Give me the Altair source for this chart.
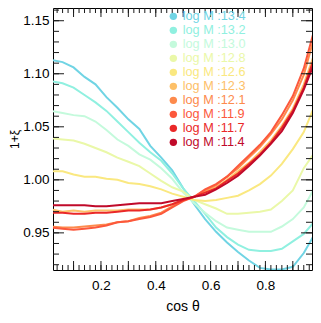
import altair as alt
import pandas as pd

# ---------------- data ----------------
cos_theta = [0.02, 0.06, 0.10, 0.14, 0.18, 0.22, 0.26, 0.30, 0.34, 0.38, 0.42, 0.46, 0.50,
             0.54, 0.58, 0.62, 0.66, 0.70, 0.74, 0.78, 0.82, 0.86, 0.90, 0.94, 0.98]

masses = ["13.4", "13.2", "13.0", "12.8", "12.6", "12.3", "12.1", "11.9", "11.7", "11.4"]
colors = ["#70d4e4", "#90f0e0", "#c4fadc", "#eaf8a8", "#fae880",
          "#fdc068", "#fd8a4c", "#fc583c", "#ea2828", "#c00a2a"]

xi_13_4 = [1.113, 1.111, 1.106, 1.097, 1.090, 1.078, 1.068, 1.057, 1.048, 1.032, 1.021, 1.009, 0.992,
           0.977, 0.963, 0.951, 0.941, 0.932, 0.924, 0.917, 0.9155, 0.9155, 0.918, 0.931, 0.949]
xi_13_2 = [1.093, 1.091, 1.087, 1.080, 1.073, 1.065, 1.055, 1.045, 1.035, 1.026, 1.018, 1.006, 0.992,
           0.980, 0.968, 0.955, 0.946, 0.939, 0.934, 0.933, 0.933, 0.935, 0.942, 0.949, 0.961]
xi_13_0 = [1.065, 1.063, 1.061, 1.060, 1.055, 1.047, 1.038, 1.032, 1.024, 1.019, 1.011, 1.001, 0.988,
           0.978, 0.969, 0.961, 0.955, 0.953, 0.951, 0.951, 0.951, 0.956, 0.963, 0.974, 0.993]
xi_12_8 = [1.039, 1.038, 1.037, 1.034, 1.030, 1.026, 1.021, 1.017, 1.013, 1.006, 0.999, 0.993, 0.989,
           0.981, 0.977, 0.973, 0.968, 0.968, 0.969, 0.970, 0.972, 0.980, 0.990, 1.011, 1.026]
xi_12_6 = [1.008, 1.008, 1.005, 1.003, 1.003, 1.001, 1.000, 0.997, 0.996, 0.994, 0.991, 0.987, 0.984,
           0.981, 0.980, 0.981, 0.983, 0.985, 0.990, 0.996, 1.004, 1.015, 1.029, 1.045, 1.070]
xi_12_3 = [0.972, 0.970, 0.971, 0.970, 0.971, 0.971, 0.971, 0.972, 0.972, 0.972, 0.974, 0.977, 0.981,
           0.984, 0.989, 0.993, 1.000, 1.008, 1.016, 1.026, 1.037, 1.051, 1.067, 1.090, 1.120]
xi_12_1 = [0.956, 0.955, 0.955, 0.956, 0.957, 0.958, 0.960, 0.961, 0.964, 0.966, 0.969, 0.975, 0.981,
           0.984, 0.990, 0.995, 1.003, 1.011, 1.021, 1.031, 1.043, 1.057, 1.075, 1.099, 1.136]
xi_11_9 = [0.955, 0.954, 0.953, 0.954, 0.955, 0.957, 0.960, 0.961, 0.963, 0.965, 0.968, 0.974, 0.980,
           0.984, 0.991, 0.996, 1.003, 1.013, 1.023, 1.033, 1.045, 1.061, 1.079, 1.105, 1.143]
xi_11_7 = [0.969, 0.969, 0.968, 0.968, 0.969, 0.969, 0.970, 0.971, 0.971, 0.972, 0.974, 0.977, 0.981,
           0.984, 0.988, 0.992, 0.999, 1.006, 1.015, 1.024, 1.035, 1.049, 1.065, 1.087, 1.116]
xi_11_4 = [0.976, 0.976, 0.976, 0.976, 0.975, 0.975, 0.976, 0.977, 0.978, 0.978, 0.978, 0.980, 0.982,
           0.984, 0.986, 0.991, 0.997, 1.004, 1.013, 1.023, 1.034, 1.046, 1.063, 1.085, 1.111]

series = [xi_13_4, xi_13_2, xi_13_0, xi_12_8, xi_12_6, xi_12_3, xi_12_1, xi_11_9, xi_11_7, xi_11_4]

x_labels = [0.2, 0.4, 0.6, 0.8]
x_major = [0.1, 0.2, 0.3, 0.4, 0.5, 0.6, 0.7, 0.8, 0.9]
x_minor = [round(0.04 + 0.02 * i, 2) for i in range(47)]
y_labels = [0.95, 1.00, 1.05, 1.10, 1.15]
y_minor = [round(0.92 + 0.01 * i, 2) for i in range(25)]

rows = []
for m, vals in zip(masses, series):
    for c, v in zip(cos_theta, vals):
        rows.append({"cos": c, "xi": v, "mass": m})
df = pd.DataFrame(rows)

# ---------------- layout ----------------
W, H = 259, 262
FONT = "Liberation Sans"
TICK = "#1a1a1a"

xs = alt.Scale(domain=[0.025, 0.97], nice=False, zero=False)
ys = alt.Scale(domain=[0.915, 1.162], nice=False, zero=False)

legend = alt.Legend(
    orient="none", legendX=114, legendY=2, title=None, padding=0, rowPadding=0,
    labelOffset=3, labelFontSize=12.7, labelFont=FONT, symbolType="circle",
    symbolSize=55, symbolStrokeWidth=0,
    symbolFillColor={"expr": "scale('color', datum.value)"},
    labelColor={"expr": "scale('color', datum.value)"},
    labelExpr="'log M :' + datum.label",
)

lines = alt.Chart(df).mark_line(strokeWidth=2, clip=True).encode(
    x=alt.X("cos:Q", scale=xs, axis=alt.Axis(
        orient="bottom", values=x_labels, format=".1f", ticks=False, tickSize=0,
        domain=False, grid=False, labelPadding=8, labelFontSize=13.5, labelFont=FONT,
        labelColor="black", title="cos θ", titleFont=FONT, titleFontSize=14,
        titleFontWeight="normal", titlePadding=8, titleColor="black")),
    y=alt.Y("xi:Q", scale=ys, axis=alt.Axis(
        orient="left", values=y_labels, format=".2f", ticks=False, tickSize=0,
        domain=False, grid=False, labelPadding=4, labelFontSize=13.5, labelFont=FONT,
        labelColor="black", title="1+ξ", titleFont=FONT, titleFontSize=12,
        titleFontWeight="normal", titlePadding=1, titleColor="black")),
    color=alt.Color("mass:N", scale=alt.Scale(domain=masses, range=colors), legend=legend),
    detail="mass:N",
)


def x_ticks(vals, y0, y1):
    return alt.Chart(pd.DataFrame({"v": vals})).mark_rule(color=TICK, strokeWidth=1).encode(
        x=alt.X("v:Q", scale=xs, axis=None), y=alt.value(y0), y2=alt.value(y1))


def y_ticks(vals, x0, x1):
    return alt.Chart(pd.DataFrame({"v": vals})).mark_rule(color=TICK, strokeWidth=1).encode(
        y=alt.Y("v:Q", scale=ys, axis=None), x=alt.value(x0), x2=alt.value(x1))


ticks = [
    x_ticks(x_major, H, H - 9), x_ticks(x_minor, H, H - 5),      # bottom, inward
    x_ticks(x_major, 0, 9), x_ticks(x_minor, 0, 5),              # top, inward
    y_ticks(y_labels, 0, 11), y_ticks(y_minor, 0, 6),            # left, inward
    y_ticks(y_labels, W, W - 11), y_ticks(y_minor, W, W - 6),    # right, inward
]

chart = alt.layer(lines, *ticks).resolve_axis(
    x="independent", y="independent"
).properties(
    width=W, height=H,
    autosize=alt.AutoSizeParams(type="none"),
    padding={"left": 45, "top": 0, "right": 1, "bottom": 45},
    background="white",
).configure_view(stroke="black", strokeWidth=1)

chart.save("out.html", embed_options={"renderer": "svg", "actions": False})
